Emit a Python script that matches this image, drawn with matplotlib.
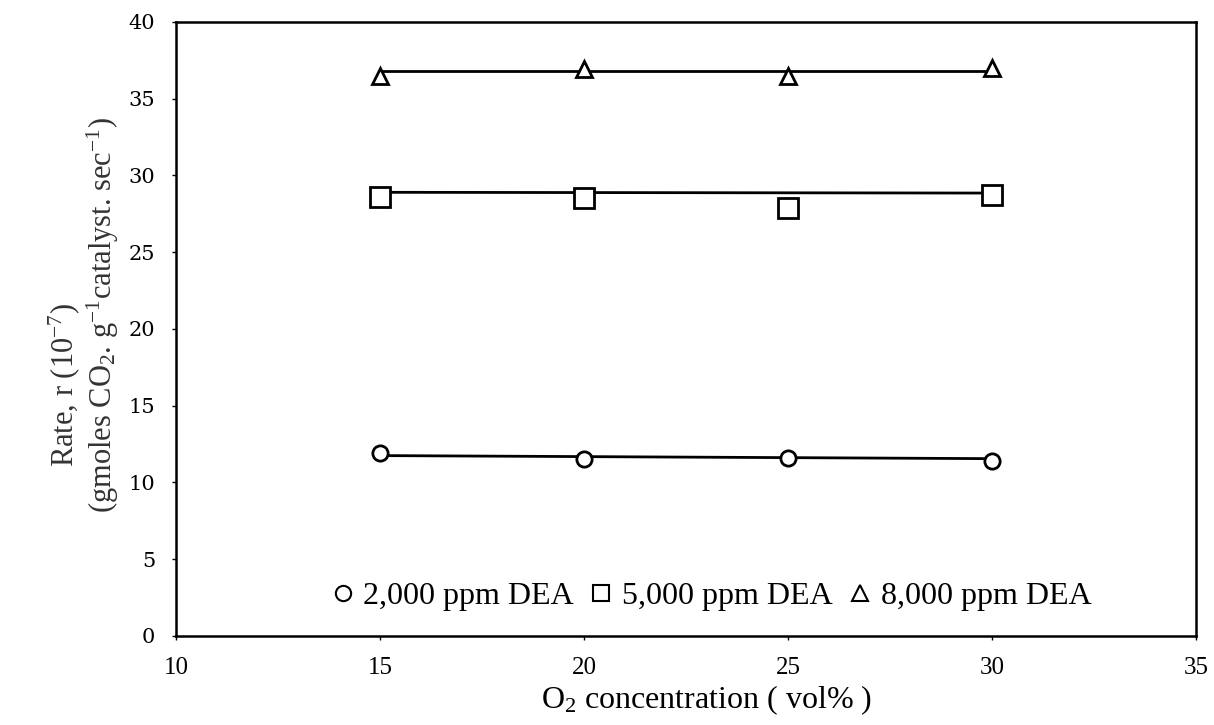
import matplotlib
matplotlib.use("Agg")
import matplotlib.pyplot as plt
from matplotlib.lines import Line2D

plt.rcParams['font.family'] = ['Liberation Serif', 'DejaVu Serif']
plt.rcParams['mathtext.fontset'] = 'custom'
plt.rcParams['mathtext.rm'] = 'Liberation Serif'
plt.rcParams['mathtext.it'] = 'Liberation Serif:italic'

# O2 concentration (vol%)
o2 = [15, 20, 25, 30]

# Measured rates (10^-7 gmoles CO2 / g catalyst / sec)
rate_2000 = [11.9, 11.5, 11.6, 11.4]
rate_5000 = [28.6, 28.5, 27.9, 28.7]
rate_8000 = [36.5, 36.9, 36.5, 37.0]

# Trend lines (start, end) over the O2 range
trend_x = [15, 30]
trend_2000 = [11.75, 11.55]
trend_5000 = [28.9, 28.85]
trend_8000 = [36.8, 36.8]

labels = ['2,000 ppm DEA', '5,000 ppm DEA', '8,000 ppm DEA']
markers = ['o', 's', '^']
sizes = [11, 14, 12]

fig = plt.figure(figsize=(12.14, 7.25), dpi=100)
ax = fig.add_axes([0.145, 0.1228, 0.84, 0.847])

series = [(rate_2000, trend_2000), (rate_5000, trend_5000), (rate_8000, trend_8000)]
for (vals, trend), m, ms in zip(series, markers, sizes):
    ax.plot(trend_x, trend, color='black', lw=2.0, zorder=2)
    ax.plot(o2, vals, linestyle='none', marker=m, markersize=ms,
            markerfacecolor='white', markeredgecolor='black',
            markeredgewidth=2.0, zorder=3)

ax.set_xlim(10, 35)
ax.set_ylim(0, 40)
ax.set_xticks(range(10, 36, 5))
ax.set_yticks(range(0, 41, 5))
ax.tick_params(axis='both', direction='out', length=3, width=1)
ax.tick_params(axis='y', pad=12, labelsize=15, labelfontfamily='DejaVu Serif')
ax.tick_params(axis='x', pad=12, labelsize=18, labelfontfamily='Liberation Serif')
for s in ax.spines.values():
    s.set_linewidth(1.8)

ax.set_xlabel('O$_2$ concentration ( vol% )', fontsize=23)
ax.xaxis.set_label_coords(0.52, -0.077)

# Two-line y-axis title
fig.text(64 / 1214, 1 - 385 / 725, 'Rate, r (10$^{-7}$)', rotation=90,
         ha='center', va='center', fontsize=22, color='#333333')
fig.text(103 / 1214, 1 - 315 / 725,
         '(gmoles CO$_2$. g$^{-1}$catalyst. sec$^{-1}$)', rotation=90,
         ha='center', va='center', fontsize=22, color='#333333')

handles = [Line2D([], [], linestyle='none', marker=m, markersize=s,
                  markerfacecolor='white', markeredgecolor='black',
                  markeredgewidth=1.5) for m, s in zip(markers, [11, 12, 11])]
ax.legend(handles, labels, loc='center', bbox_to_anchor=(0.525, 0.065),
          ncol=3, frameon=False, fontsize=23, handlelength=0.7,
          handletextpad=0.3, columnspacing=0.5, borderpad=0.2)

fig.savefig('out.png', dpi=100)
